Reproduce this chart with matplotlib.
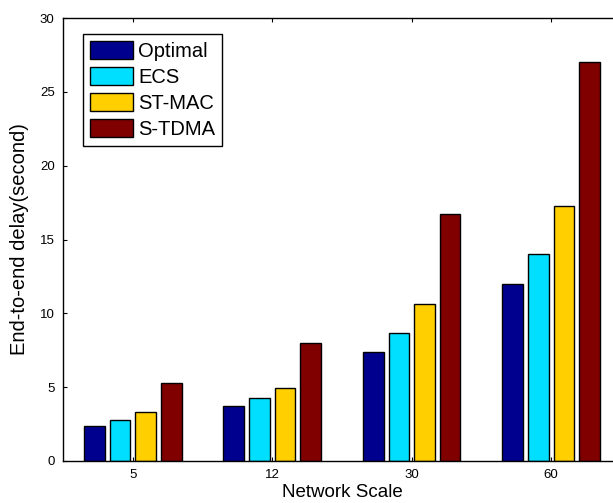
import matplotlib
matplotlib.use("Agg")
import matplotlib.pyplot as plt
import numpy as np

plt.rcParams['font.family'] = ['Liberation Sans', 'DejaVu Sans']

# data
scales = ['5', '12', '30', '60']
optimal = [2.4, 3.7, 7.4, 12.0]
ecs = [2.75, 4.25, 8.65, 14.0]
st_mac = [3.35, 4.95, 10.65, 17.25]
s_tdma = [5.25, 8.0, 16.7, 27.0]

series = [optimal, ecs, st_mac, s_tdma]
names = ['Optimal', 'ECS', 'ST-MAC', 'S-TDMA']
colors = ['#00008F', '#00DFFF', '#FFCF00', '#800000']

fig = plt.figure(figsize=(6.13, 5.03), dpi=100)
ax = fig.add_axes([0.1028, 0.0835, 0.9102, 0.8807])

x = np.arange(1, len(scales) + 1)
step = 0.183
w = 0.15
for i, (vals, name, c) in enumerate(zip(series, names, colors)):
    ax.bar(x + (i - 1.5) * step, vals, w, color=c, edgecolor='black',
           linewidth=1, label=name, zorder=2)

ax.set_xlim(0.5, 4.5)
ax.set_ylim(0, 30)
ax.set_xticks(x)
ax.set_xticklabels(scales)
ax.set_yticks(np.arange(0, 31, 5))
ax.tick_params(direction='in', length=3, labelsize=9.5, top=True, right=True,
               pad=6)
for s in ax.spines.values():
    s.set_linewidth(1.0)

ax.set_xlabel('Network Scale', fontsize=13.5, labelpad=2)
ax.set_ylabel('End-to-end delay(second)', fontsize=14.5, labelpad=8)

leg = ax.legend(loc='upper left', bbox_to_anchor=(0.035, 0.963),
                fontsize=14.5, fancybox=False, edgecolor='black',
                framealpha=1, handlelength=2.15, handleheight=1.0,
                handletextpad=0.25, labelspacing=0.3, borderpad=0.35,
                borderaxespad=0)
leg.get_frame().set_linewidth(1.0)

fig.savefig('out.png', dpi=100)
